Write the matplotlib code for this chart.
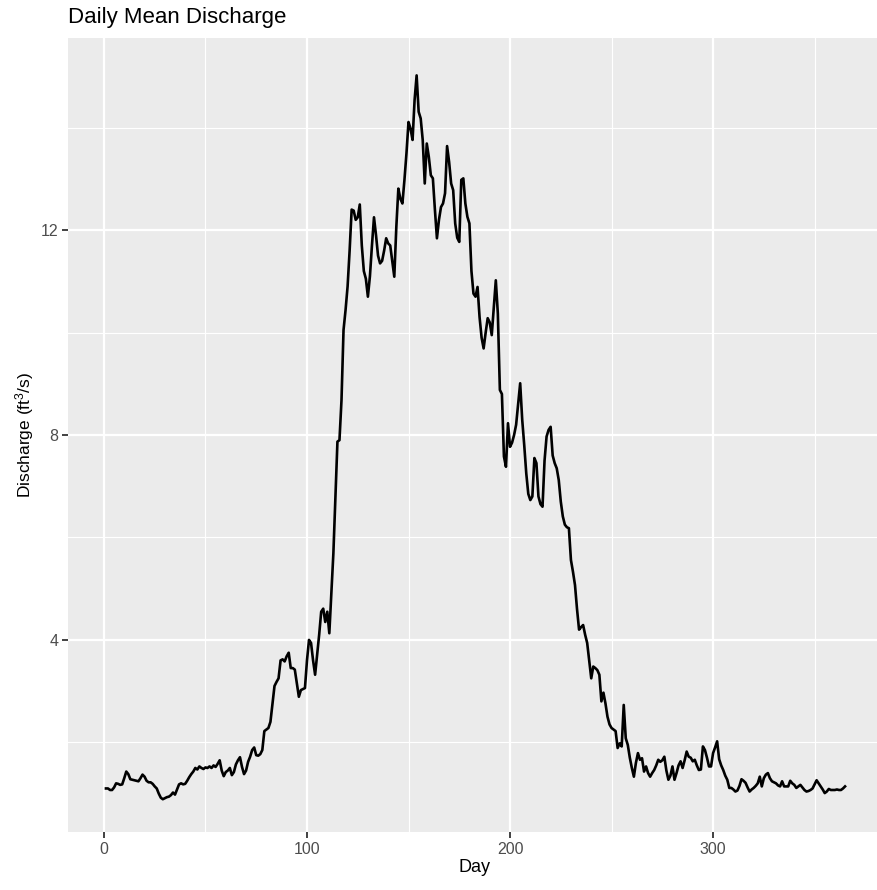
import matplotlib
matplotlib.use("Agg")
import matplotlib.pyplot as plt
from matplotlib.ticker import MultipleLocator

plt.rcParams['font.family'] = ['Liberation Sans', 'DejaVu Sans']
plt.rcParams['mathtext.default'] = 'regular'

# Daily mean discharge (ft^3/s), days 1..365
discharge = [
    1.10, 1.10, 1.07, 1.07, 1.12, 1.20, 1.19, 1.17, 1.18, 1.30,
    1.43, 1.38, 1.28, 1.27, 1.26, 1.25, 1.24, 1.30, 1.37, 1.33,
    1.25, 1.22, 1.22, 1.19, 1.14, 1.10, 1.00, 0.92, 0.89, 0.91,
    0.93, 0.94, 0.97, 1.02, 0.98, 1.08, 1.18, 1.20, 1.18, 1.19,
    1.25, 1.32, 1.38, 1.43, 1.50, 1.47, 1.53, 1.50, 1.48, 1.51,
    1.50, 1.53, 1.50, 1.55, 1.52, 1.58, 1.65, 1.45, 1.34, 1.42,
    1.45, 1.50, 1.36, 1.42, 1.57, 1.65, 1.71, 1.52, 1.38, 1.45,
    1.62, 1.72, 1.85, 1.90, 1.75, 1.74, 1.77, 1.85, 2.22, 2.25,
    2.28, 2.40, 2.75, 3.10, 3.18, 3.25, 3.60, 3.62, 3.58, 3.68,
    3.75, 3.45, 3.45, 3.42, 3.15, 2.89, 3.02, 3.04, 3.06, 3.60,
    4.00, 3.94, 3.60, 3.32, 3.70, 4.10, 4.55, 4.61, 4.35, 4.55,
    4.13, 4.90, 5.69, 6.80, 7.87, 7.90, 8.68, 10.05, 10.44, 10.90,
    11.60, 12.40, 12.38, 12.20, 12.25, 12.50, 11.70, 11.20, 11.05, 10.70,
    11.10, 11.70, 12.25, 11.90, 11.50, 11.35, 11.40, 11.60, 11.84, 11.74,
    11.70, 11.40, 11.09, 12.06, 12.81, 12.61, 12.52, 12.98, 13.50, 14.11,
    13.98, 13.76, 14.54, 15.02, 14.31, 14.18, 13.76, 12.91, 13.69, 13.43,
    13.07, 13.01, 12.40, 11.84, 12.20, 12.45, 12.52, 12.72, 13.64, 13.33,
    12.91, 12.78, 12.13, 11.85, 11.77, 12.98, 13.01, 12.52, 12.26, 12.13,
    11.20, 10.76, 10.70, 10.89, 10.30, 9.90, 9.69, 10.00, 10.28, 10.20,
    9.95, 10.50, 11.02, 10.37, 8.88, 8.80, 7.58, 7.38, 8.23, 7.77,
    7.85, 8.00, 8.20, 8.60, 9.01, 8.30, 7.80, 7.25, 6.85, 6.73,
    6.80, 7.55, 7.45, 6.80, 6.65, 6.60, 7.50, 7.97, 8.10, 8.16,
    7.60, 7.45, 7.35, 7.12, 6.70, 6.41, 6.25, 6.20, 6.18, 5.56,
    5.33, 5.07, 4.60, 4.20, 4.25, 4.29, 4.10, 3.94, 3.60, 3.25,
    3.48, 3.45, 3.41, 3.32, 2.80, 2.97, 2.76, 2.50, 2.35, 2.28,
    2.25, 2.22, 1.89, 1.98, 1.92, 2.73, 2.08, 1.95, 1.70, 1.50,
    1.33, 1.60, 1.79, 1.66, 1.69, 1.43, 1.53, 1.40, 1.33, 1.40,
    1.46, 1.55, 1.66, 1.62, 1.65, 1.72, 1.45, 1.27, 1.35, 1.53,
    1.27, 1.40, 1.55, 1.63, 1.50, 1.65, 1.82, 1.72, 1.70, 1.63,
    1.66, 1.55, 1.46, 1.47, 1.92, 1.85, 1.70, 1.53, 1.53, 1.79,
    1.90, 2.02, 1.67, 1.55, 1.46, 1.35, 1.27, 1.11, 1.11, 1.08,
    1.04, 1.06, 1.15, 1.28, 1.25, 1.21, 1.12, 1.04, 1.08, 1.11,
    1.15, 1.20, 1.33, 1.14, 1.30, 1.37, 1.40, 1.30, 1.24, 1.22,
    1.20, 1.16, 1.14, 1.24, 1.14, 1.14, 1.14, 1.25, 1.20, 1.17,
    1.11, 1.14, 1.17, 1.12, 1.07, 1.04, 1.05, 1.07, 1.10, 1.18,
    1.26, 1.20, 1.14, 1.08, 1.01, 1.04, 1.09, 1.07, 1.07, 1.07,
    1.08, 1.07, 1.07, 1.10, 1.14,
]
days = list(range(1, len(discharge) + 1))

x_ticks = [0, 100, 200, 300]
y_ticks = [4, 8, 12]

W, H = 877, 890
fig = plt.figure(figsize=(W / 100, H / 100), dpi=100)
left, right, top, bottom = 68, 882, 38, 832
ax = fig.add_axes([left / W, 1 - bottom / H, (right - left) / W, (bottom - top) / H])
ax.set_facecolor('#EBEBEB')
for s in ax.spines.values():
    s.set_visible(False)

ax.plot(days, discharge, color='black', lw=1.9, zorder=3,
        solid_joinstyle='round')

ax.set_xlim(-17.7, 383.2)
ax.set_ylim(0.25, 15.75)
ax.set_xticks(x_ticks)
ax.set_yticks(y_ticks)
ax.xaxis.set_minor_locator(MultipleLocator(50))
ax.yaxis.set_minor_locator(MultipleLocator(2))
ax.grid(which='major', color='white', lw=1.6, zorder=1)
ax.grid(which='minor', color='white', lw=0.8, zorder=1)
ax.tick_params(which='minor', length=0)
ax.tick_params(which='major', length=4, width=1.3, color='#333333',
               labelcolor='#4D4D4D', labelsize=11.5, pad=3)
ax.set_axisbelow(True)

ax.set_xlabel('Day', fontsize=13, color='black', labelpad=2)
ax.set_ylabel('Discharge (ft$^{3}$/s)', fontsize=12.5, color='black', labelpad=3)
fig.text(68 / W, 1 - 18 / H, 'Daily Mean Discharge', fontsize=16,
         ha='left', va='center', color='black')

fig.savefig('out.png', dpi=100)
